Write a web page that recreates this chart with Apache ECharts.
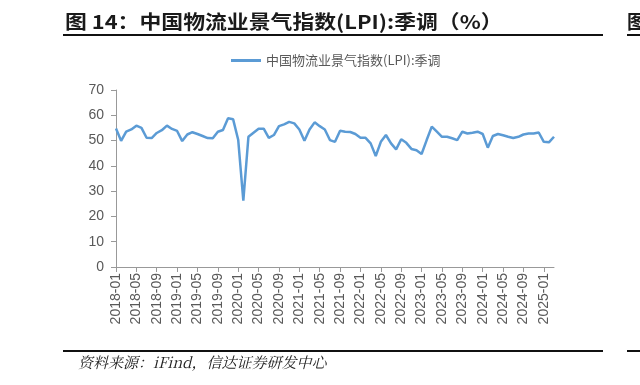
<!DOCTYPE html>
<html>
<head>
    <meta charset="utf-8">
    <title>LPI</title>
    <script src="https://cdn.jsdelivr.net/npm/echarts@6/dist/echarts.min.js"></script>
    <style>
        body { margin: 0; background: #fff; }
    </style>
</head>
<body>
    <div id="main" style="width:640px;height:385px;"></div>
    <script type="text/javascript">
        // 月份 2018-01 ~ 2025-03
        var months = [];
        for (var y = 2018; y <= 2025; y++) {
            for (var m = 1; m <= 12; m++) {
                if (y === 2025 && m > 3) break;
                months.push(y + '-' + (m < 10 ? '0' + m : m));
            }
        }
        var lpi = [
            54.8, 49.9, 53.5, 54.4, 55.9, 55.0, 51.1, 51.0, 53.0, 54.1, 55.9, 54.6,
            53.8, 49.8, 52.4, 53.3, 52.6, 51.8, 51.0, 50.9, 53.5, 54.2, 58.8, 58.4,
            50.2, 26.2, 51.5, 53.1, 54.7, 54.7, 51.1, 52.2, 55.7, 56.4, 57.4, 56.8,
            54.4, 49.9, 54.4, 57.2, 55.7, 54.4, 50.2, 49.5, 53.9, 53.5, 53.4, 52.6,
            51.1, 51.1, 48.9, 43.9, 49.5, 52.2, 48.9, 46.5, 50.5, 49.1, 46.7, 46.2,
            44.7, 50.2, 55.5, 53.5, 51.5, 51.5, 50.9, 50.2, 53.5, 52.8, 53.1, 53.5,
            52.6, 47.2, 51.8, 52.6, 52.1, 51.5, 51.0, 51.5, 52.4, 52.8, 52.8, 53.2,
            49.5, 49.3, 51.5
        ];
        var seriesName = '中国物流业景气指数(LPI):季调';
        var titleText = '图 14：中国物流业景气指数(LPI):季调（%）';
        var sourceText = '资料来源：iFind，信达证券研发中心';

        var chart = echarts.init(document.getElementById('main'));
        var option = {
            animation: false,
            textStyle: { fontFamily: 'Arial, "Liberation Sans", "Noto Sans CJK SC"' },
            graphic: [
                // 标题稍微拉宽一点，贴近原图
                { type: 'text', x: 65, y: 12, scaleX: 1.15,
                  style: { text: titleText, fill: '#1a1a1a', font: 'bold 19px "Noto Sans CJK SC"' } },
                { type: 'rect', shape: { x: 63, y: 34, width: 540, height: 2 }, style: { fill: '#111' } },
                { type: 'text', x: 627, y: 12,
                  style: { text: '图', fill: '#1a1a1a', font: 'bold 19px "Noto Sans CJK SC"' } },
                { type: 'rect', shape: { x: 627, y: 34, width: 20, height: 2 }, style: { fill: '#111' } },
                { type: 'rect', shape: { x: 63, y: 350, width: 540, height: 2 }, style: { fill: '#111' } },
                { type: 'rect', shape: { x: 627, y: 350, width: 20, height: 2 }, style: { fill: '#111' } },
                { type: 'text', x: 78, y: 355,
                  style: { text: sourceText, fill: '#222', font: 'italic 15px "Noto Serif CJK SC", "Noto Sans CJK SC"' } }
            ],
            legend: {
                data: [seriesName],
                top: 49,
                left: 226,
                itemWidth: 30,
                itemHeight: 3,
                icon: 'rect',
                itemGap: 4,
                textStyle: { color: '#595959', fontSize: 13, fontFamily: '"Noto Sans CJK SC"' }
            },
            grid: { left: 116, right: 86, top: 90, bottom: 118 },
            xAxis: {
                type: 'category',
                data: months,
                boundaryGap: false,
                axisLine: { lineStyle: { color: '#999' } },
                axisTick: { interval: 3, length: 5, lineStyle: { color: '#999' } },
                axisLabel: { interval: 3, rotate: 90, color: '#595959', fontSize: 14, margin: 6 }
            },
            yAxis: {
                type: 'value',
                min: 0, max: 70, interval: 10,
                axisLine: { show: true, lineStyle: { color: '#999' } },
                axisTick: { show: true, length: 5, lineStyle: { color: '#999' } },
                splitLine: { show: false },
                axisLabel: { color: '#595959', fontSize: 14, margin: 12 }
            },
            series: [{
                name: seriesName,
                type: 'line',
                data: lpi,
                symbol: 'none',
                lineStyle: { color: '#5b9bd5', width: 2.5 },
                itemStyle: { color: '#5b9bd5' }
            }]
        };
        chart.setOption(option);
    </script>
</body>
</html>
